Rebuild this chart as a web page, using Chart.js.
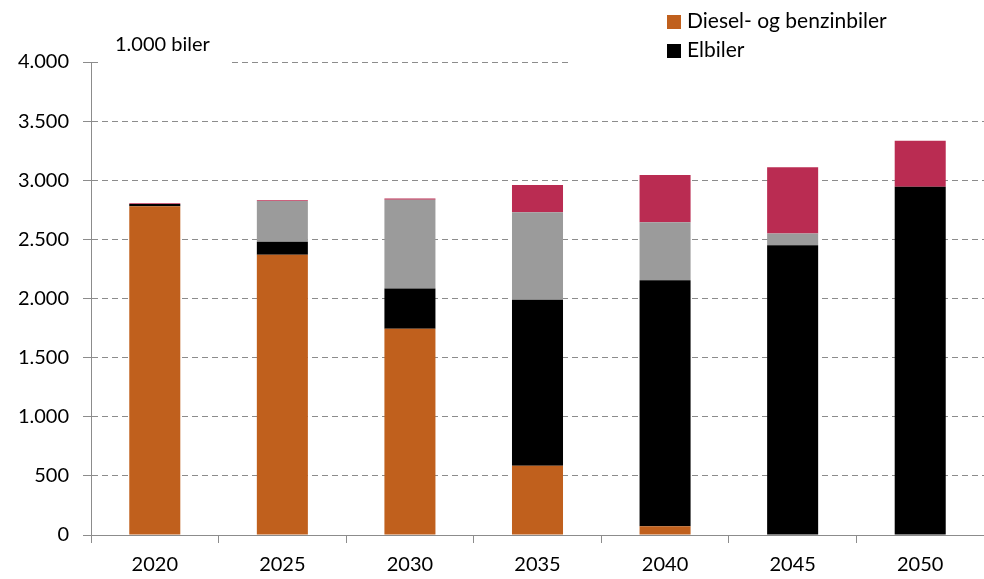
<!DOCTYPE html>
<html>
<head>
<meta charset="utf-8">
<script src="https://cdn.jsdelivr.net/npm/chart.js@4.4.1/dist/chart.umd.min.js"></script>
<style>
  html, body { margin: 0; padding: 0; background: #fff; }
  #wrap { position: relative; width: 984px; height: 579px; }
  #legend { position: absolute; left: 667px; top: 5px; font-family: Lato, sans-serif; font-size: 21px; color: #000; }
  #legend div { height: 29px; line-height: 29px; white-space: nowrap; }
  #legend span.box { display: inline-block; width: 14px; height: 14px; margin-right: 6px; vertical-align: -1px; }
</style>
</head>
<body>
<div id="wrap">
  <canvas id="fleet" width="984" height="579"></canvas>
  <div id="legend">
    <div><span class="box" style="background:#C0601D"></span>Diesel- og benzinbiler</div>
    <div><span class="box" style="background:#000"></span>Elbiler</div>
  </div>
</div>
<script>
var years = ['2020', '2025', '2030', '2035', '2040', '2045', '2050'];
// 1.000 biler
var dieselBensin = [2780, 2370, 1745, 585, 75, 0, 0];
var elbiler = [20, 110, 340, 1405, 2080, 2450, 2945];
var grey = [0, 345, 750, 740, 490, 100, 0];
var red = [5, 5, 10, 230, 400, 560, 390];
var yTicks = [0, 500, 1000, 1500, 2000, 2500, 3000, 3500, 4000];

function thousands(v){
    return String(v).replace(/\B(?=(\d{3})+$)/g, '.');
}

// white boxes behind the unit label and the legend, then the unit label
var cover = {
    id: 'cover',
    beforeDatasetsDraw: function(chart){
        var ctx = chart.ctx, y = chart.scales.y.getPixelForValue(4000);
        ctx.save();
        ctx.fillStyle = '#fff';
        ctx.fillRect(100, y - 4, 130, 8);
        ctx.fillRect(570, y - 4, 420, 8);
        ctx.restore();
    },
    afterDraw: function(chart){
        var ctx = chart.ctx;
        ctx.save();
        ctx.font = '20px Lato, sans-serif';
        ctx.fillStyle = '#000';
        ctx.textBaseline = 'middle';
        ctx.fillText('1.000 biler', 115, 45);
        ctx.restore();
    }
};

var ctx = document.getElementById('fleet').getContext('2d');
new Chart(ctx, {
    type: 'bar',
    data: {
        labels: years,
        datasets: [{
            label: 'Diesel- og benzinbiler',
            data: dieselBensin,
            backgroundColor: '#C0601D'
        },
        {
            label: 'Elbiler',
            data: elbiler,
            backgroundColor: '#000000'
        },
        {
            label: 'Ladbare hybrider',
            data: grey,
            backgroundColor: '#9B9B9B'
        },
        {
            label: 'Hydrogenbiler',
            data: red,
            backgroundColor: '#BA2C52'
        }]
    },
    options: {
        responsive: false,
        animation: false,
        layout: { padding: { top: 62, right: 0, left: 0, bottom: 0 } },
        datasets: { bar: { barPercentage: 0.8, categoryPercentage: 0.5 } },
        plugins: {
            legend: { display: false },
            tooltip: { enabled: false }
        },
        scales: {
            x: {
                stacked: true,
                grid: { display: true, drawOnChartArea: false, tickLength: 8, color: '#8c8c8c' },
                border: { color: '#8c8c8c' },
                ticks: { color: '#000', font: { family: 'Lato', size: 20 }, padding: 10 },
                afterFit: function(s){ s.height = 44; }
            },
            y: {
                stacked: true,
                min: 0,
                max: 4000,
                afterBuildTicks: function(s){ s.ticks = yTicks.map(function(v){ return { value: v }; }); },
                grid: { color: '#8c8c8c', tickLength: 8, tickColor: '#8c8c8c' },
                border: { color: '#8c8c8c', dash: [6, 4] },
                ticks: { color: '#000', font: { family: 'Lato', size: 20 }, padding: 14, callback: function(v){ return thousands(v); } },
                afterFit: function(s){ s.width = 91; }
            }
        }
    },
    plugins: [cover]
});
</script>
</body>
</html>
